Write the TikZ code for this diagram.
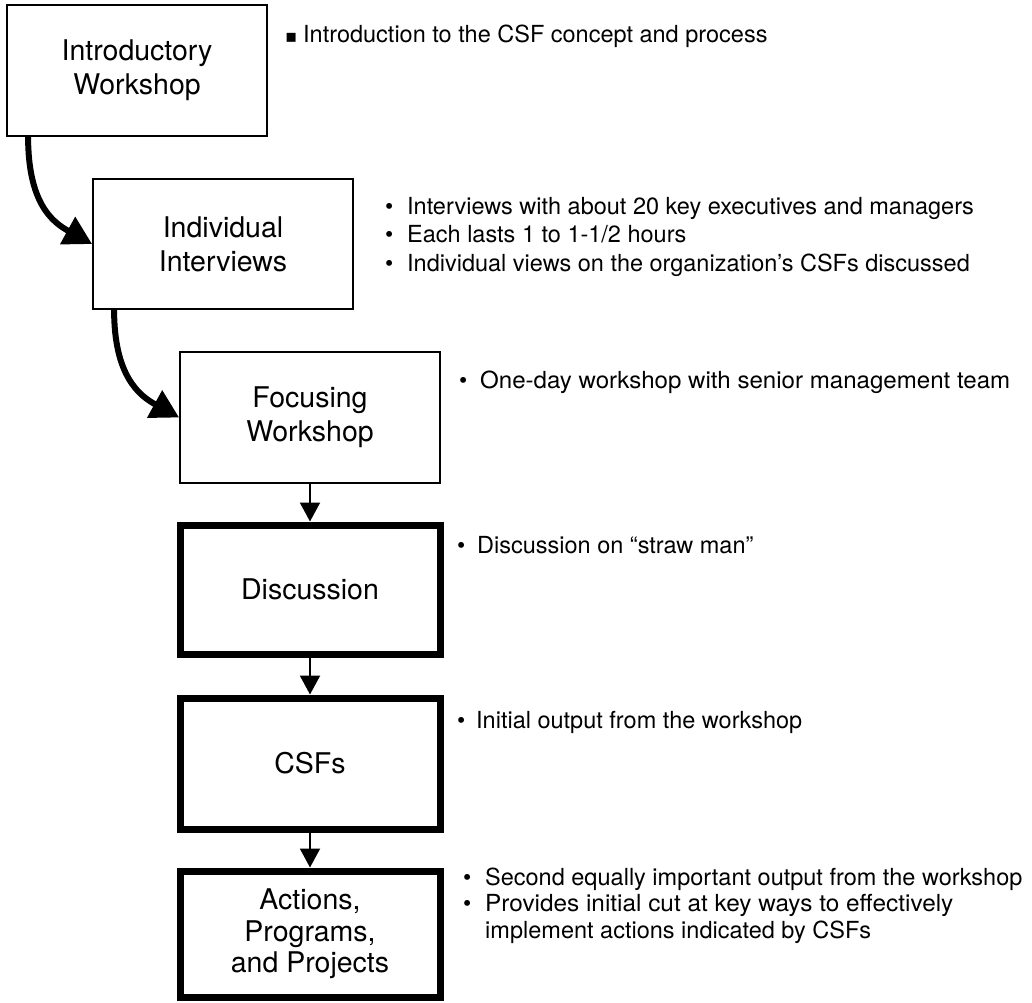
\documentclass[tikz,border=0pt]{standalone}
\usepackage{fontspec}
\usepackage{graphicx}
\setmainfont{TeX Gyre Heros}
\newfontfamily\symfont{DejaVu Sans}
\usetikzlibrary{arrows.meta}
\newcommand{\bul}{\makebox[12pt][c]{\textbullet}}
\newcommand{\sqbul}{\makebox[12pt][c]{\symfont\fontsize{18}{18}\selectfont ▪}}
% stretch one line of a note to a given width
\newcommand{\fitto}[2]{\resizebox{#1}{\height}{#2}}
\begin{document}
\begin{tikzpicture}[x=1pt,y=-1pt,
  stage/.style={draw=black, line width=1.8pt, minimum width=260pt, inner sep=0pt,
    align=center, font=\fontsize{28.5}{34}\selectfont},
  keystage/.style={stage, line width=7pt},
  note/.style={anchor=base west, inner sep=0pt, font=\fontsize{23.5}{28.5}\selectfont},
  bendarrow/.style={line width=6pt, -{Triangle[length=28pt,width=30pt]}},
  flow/.style={line width=2pt, -{Triangle[length=19pt,width=20pt]}}
]
\useasboundingbox (0,0) rectangle (1032,1002);

% process stages
\node[stage, minimum height=131pt] (b1) at (137,70.5) {Introductory\\Workshop};
\node[stage, minimum height=130pt] (b2) at (223,244) {Individual\\Interviews};
\node[stage, minimum height=131pt] (b3) at (310,417.5) {Focusing\\Workshop};
\node[keystage, minimum height=129pt] (b4) at (310,589.5) {Discussion};
\node[keystage, minimum height=131pt] (b5) at (310,763.5) {CSFs};
\node[keystage, minimum height=126pt, font=\fontsize{28.5}{31.5}\selectfont] (b6) at (310,934)
  {Actions,\\Programs,\\and Projects};

% connectors
\draw[bendarrow] ([xshift=22pt]b1.south west) .. controls +(0,66) and +(-40,-22) .. (b2.west);
\draw[bendarrow] ([xshift=22pt]b2.south west) .. controls +(0,66) and +(-40,-22) .. (b3.west);
\draw[flow] (b3.south) -- (b4.north);
\draw[flow] (b4.south) -- (b5.north);
\draw[flow] (b5.south) -- (b6.north);

% notes beside each stage
\node[note] (t1) at (285,42) {\begin{tabular}[t]{@{}l@{\hspace{6pt}}l@{}}
  \sqbul & Introduction to the CSF concept and process\end{tabular}};
\node[note] (t2) at (383,214) {\begin{tabular}[t]{@{}l@{\hspace{12pt}}l@{}}
  \bul & Interviews with about 20 key executives and managers\\
  \bul & Each lasts 1 to 1-1/2 hours\\
  \bul & Individual views on the organization’s CSFs discussed\end{tabular}};
\node[note] (t3) at (457,388) {\begin{tabular}[t]{@{}l@{\hspace{11pt}}l@{}}
  \bul & \fitto{530pt}{One-day workshop with senior management team}\end{tabular}};
\node[note] (t4) at (455,553) {\begin{tabular}[t]{@{}l@{\hspace{10pt}}l@{}}
  \bul & Discussion on “straw man”\end{tabular}};
\node[note] (t5) at (455,728) {\begin{tabular}[t]{@{}l@{\hspace{9pt}}l@{}}
  \bul & Initial output from the workshop\end{tabular}};
\node[note, font=\fontsize{23.5}{26.5}\selectfont] (t6) at (461,885) {\begin{tabular}[t]{@{}l@{\hspace{12pt}}l@{}}
  \bul & Second equally important output from the workshop\\
  \bul & \fitto{468pt}{Provides initial cut at key ways to effectively}\\
       & implement actions indicated by CSFs\end{tabular}};
\end{tikzpicture}
\end{document}
